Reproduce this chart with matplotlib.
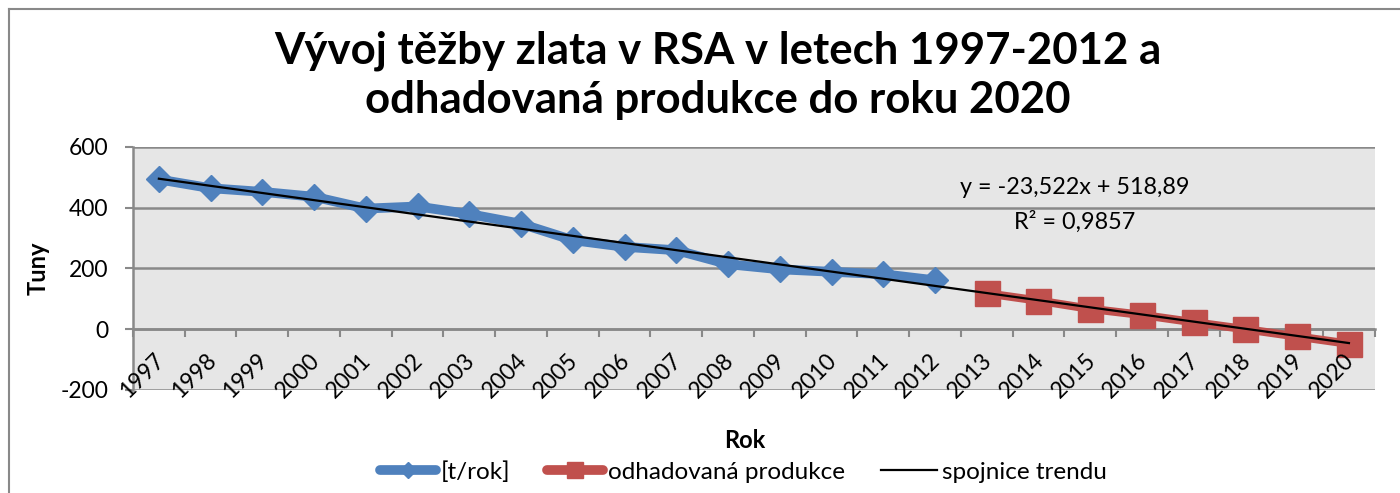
import matplotlib.pyplot as plt
from matplotlib.lines import Line2D
import numpy as np

plt.rcParams['font.family'] = ['Lato', 'DejaVu Sans']

years = ['1997', '1998', '1999', '2000', '2001', '2002', '2003', '2004',
         '2005', '2006', '2007', '2008', '2009', '2010', '2011', '2012',
         '2013', '2014', '2015', '2016', '2017', '2018', '2019', '2020']
production = [493, 464, 452, 436, 397, 404, 379, 347,
              293, 271, 260, 214, 197, 189, 181, 161]
estimate = [118, 94, 67, 47, 23, 0, -24, -48]
trend_slope = -23.522
trend_intercept = 518.89
trend_r2 = 0.9857
y_ticks = [-200, 0, 200, 400, 600]

blue = '#4F81BD'
red = '#C0504D'
grid = '#898989'


def fmt(v):
    return f'{v:g}'.replace('.', ',')


fig = plt.figure(figsize=(14, 4.93), dpi=100)
ax = fig.add_axes([0.095, 0.209, 0.887, 0.493])
ax.set_facecolor('#E6E6E6')

n_prod = len(production)
x_prod = np.arange(n_prod)
x_est = np.arange(n_prod, n_prod + len(estimate))
x_all = np.arange(len(years))

ax.plot(x_prod, production, color=blue, lw=7, marker='D', ms=13,
        solid_joinstyle='round', solid_capstyle='round', zorder=3)
ax.plot(x_est, estimate, color=red, lw=6, marker='s', ms=18,
        solid_joinstyle='round', solid_capstyle='round', zorder=3)
ax.plot(x_all, trend_slope * (x_all + 1) + trend_intercept, color='black',
        lw=1.6, zorder=4)

ax.set_xlim(-0.5, len(years) - 0.5)
ax.set_ylim(y_ticks[0], y_ticks[-1])
ax.set_yticks(y_ticks)
ax.set_yticklabels([str(v) for v in y_ticks])
for v in y_ticks:
    ax.axhline(v, color=grid, lw=1.8, zorder=1)

ax.set_xticks(np.arange(len(years) + 1) - 0.5)
ax.set_xticklabels([])
ax.tick_params(axis='x', which='major', length=6, width=1.5, color=grid,
               direction='out')
ax.tick_params(axis='y', length=6, width=1.5, color=grid, pad=12,
               labelsize=16.5)

# year labels sit below the zero line, rotated like in Excel
for i, label in enumerate(years):
    ax.text(i + 0.04, -92, label, rotation=45, ha='right', va='center',
            rotation_mode='anchor', fontsize=16.5)

for s in ['top', 'right']:
    ax.spines[s].set_visible(False)
ax.spines['bottom'].set_position(('data', 0))
ax.spines['bottom'].set_color(grid)
ax.spines['bottom'].set_linewidth(1.8)
ax.spines['left'].set_color(grid)
ax.spines['left'].set_linewidth(1.8)

ax.text(17.7, 466, f'y = {fmt(trend_slope)}x + {fmt(trend_intercept)}',
        ha='center', va='center', fontsize=16.8)
ax.text(17.7, 353, f'R² = {fmt(trend_r2)}', ha='center', va='center',
        fontsize=16.8)

fig.text(0.027, 0.455, 'Tuny', rotation=90, ha='center', va='center',
         fontsize=17, fontweight='bold')
fig.text(0.532, 0.106, 'Rok', ha='center', va='center', fontsize=17,
         fontweight='bold')
fig.text(0.513, 0.848, 'Vývoj těžby zlata v RSA v letech 1997-2012 a\n'
         'odhadovaná produkce do roku 2020', ha='center', va='center',
         fontsize=31.5, fontweight='bold', linespacing=1.27)

handles = [
    Line2D([], [], color=blue, lw=7, marker='D', ms=8,
           solid_capstyle='round'),
    Line2D([], [], color=red, lw=7, marker='s', ms=11,
           solid_capstyle='round'),
    Line2D([], [], color='black', lw=1.6),
]
labels = ['[t/rok]', 'odhadovaná produkce', 'spojnice trendu']
fig.legend(handles, labels, loc='center', bbox_to_anchor=(0.531, 0.043),
           ncol=3, frameon=False, fontsize=17.5, handlelength=2.3,
           handletextpad=0.2, columnspacing=1.5)

fig.add_artist(Line2D([0.0064, 0.0064], [0, 0.982], color=grid, lw=1.5))
fig.add_artist(Line2D([0.0064, 1], [0.982, 0.982], color=grid, lw=1.5))

fig.savefig('out.png', dpi=100)
